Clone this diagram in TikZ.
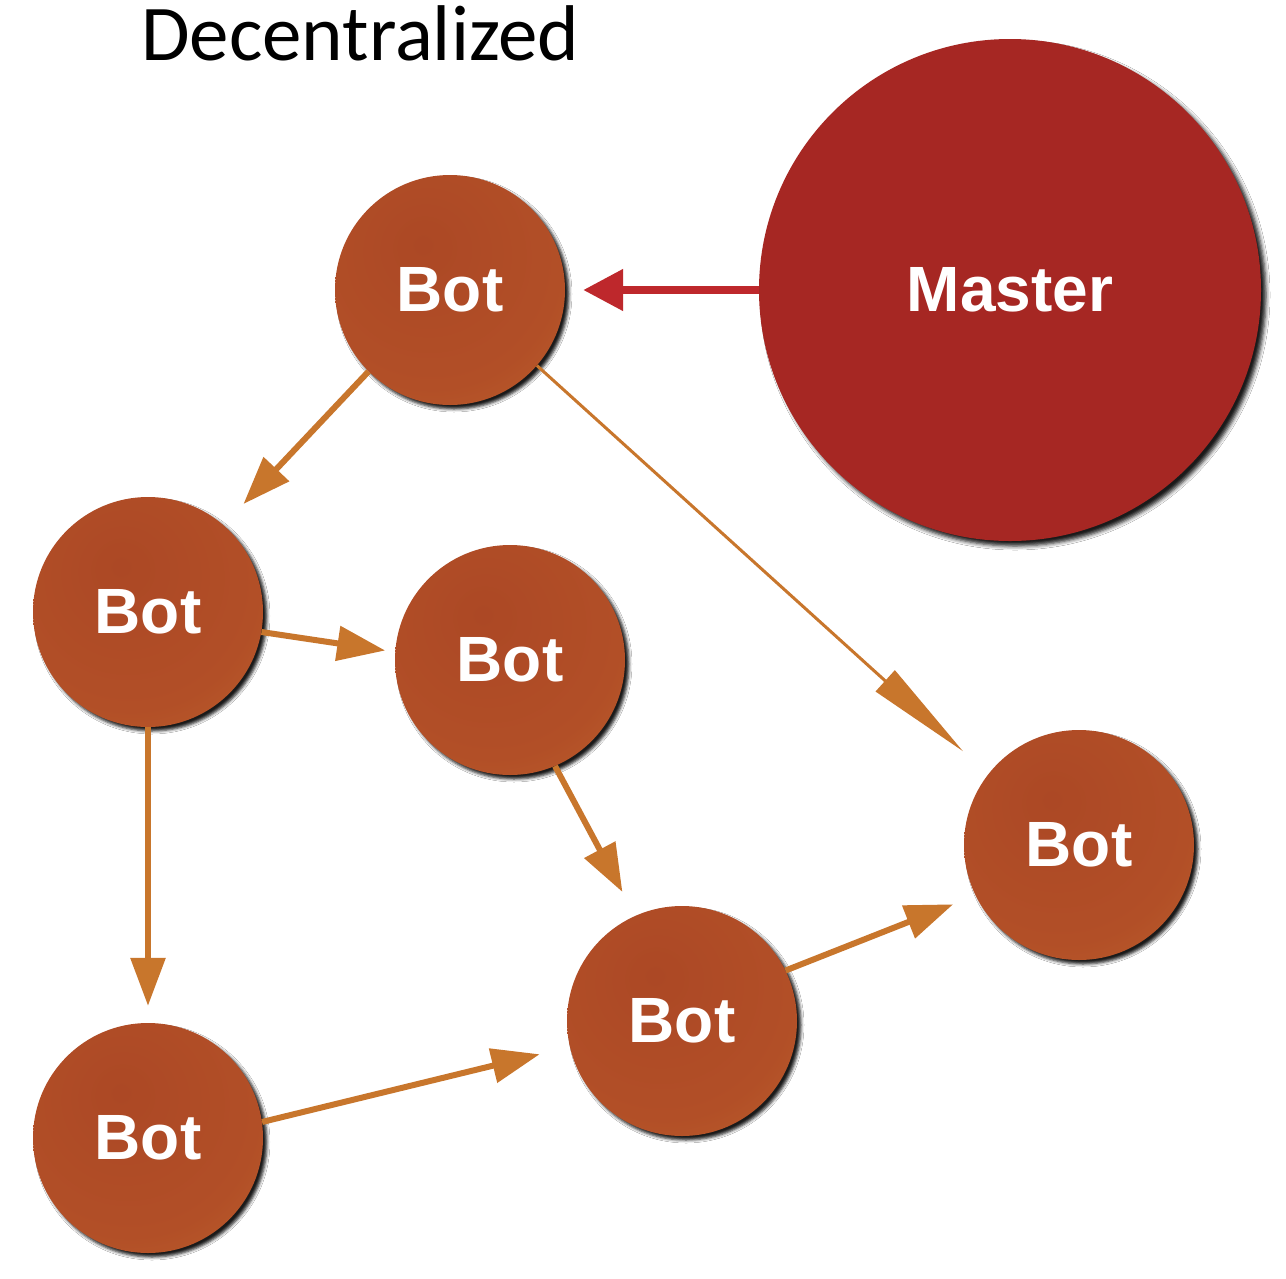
\documentclass[tikz,border=0pt]{standalone}
\usepackage{fontspec}
\setmainfont{Liberation Sans}
\newfontfamily\titlefont{Carlito}
\usetikzlibrary{arrows.meta,shadows.blur}
\definecolor{botdark}{RGB}{172,72,37}
\definecolor{botmid}{RGB}{178,79,39}
\definecolor{botlight}{RGB}{200,114,48}
\definecolor{masterdark}{RGB}{166,39,35}
\definecolor{masterlight}{RGB}{184,45,40}
\definecolor{arroworange}{RGB}{200,118,44}
\definecolor{arrowred}{RGB}{190,40,44}
\pgfdeclareradialshading{botshade}{\pgfpoint{-6bp}{10bp}}{color(0bp)=(botdark); color(28bp)=(botmid); color(58bp)=(botlight); color(80bp)=(botlight)}
\pgfdeclareradialshading{mastershade}{\pgfpoint{-8bp}{6bp}}{color(0bp)=(masterdark); color(45bp)=(masterdark); color(60bp)=(masterlight); color(80bp)=(masterlight)}
\tikzset{
  botnode/.style={circle, minimum size=230pt, inner sep=0pt, shading=botshade,
    blur shadow={shadow xshift=4pt, shadow yshift=-4pt, shadow blur radius=3pt, shadow opacity=90},
    text=white, font=\bfseries\fontsize{64}{64}\selectfont},
  masternode/.style={circle, minimum size=502pt, inner sep=0pt, shading=mastershade,
    blur shadow={shadow xshift=5pt, shadow yshift=-5pt, shadow blur radius=4pt, shadow opacity=90},
    text=white, font=\bfseries\fontsize{64}{64}\selectfont},
  arr/.style={draw=arroworange, line width=6pt, -{Triangle[length=48pt,width=34pt]}},
  thinarr/.style={draw=arroworange, line width=3pt, -{Triangle[length=105pt,width=28pt]}},
  redarr/.style={draw=arrowred, line width=8pt, -{Triangle[length=40pt,width=40pt]}},
  titlestyle/.style={anchor=base west, inner sep=0pt, font=\titlefont\fontsize{79}{82}\selectfont, text=black}
}
\begin{document}
\begin{tikzpicture}[x=1pt,y=-1pt]
\fill[white] (0,0) rectangle (1286,1278);
\useasboundingbox (0,0) rectangle (1286,1278);
\node[titlestyle] (title) at (141,60) {Decentralized};
\node[botnode] (b1) at (450,290) {Bot};
\node[masternode] (m) at (1010,290) {Master};
\node[botnode] (b2) at (148,612) {Bot};
\node[botnode] (b3) at (510,660) {Bot};
\node[botnode] (b4) at (1079,845) {Bot};
\node[botnode] (b5) at (682,1021) {Bot};
\node[botnode] (b6) at (148,1138) {Bot};
\draw[redarr, shorten >=18pt] (m.180) -- (b1.0);
\draw[arr, shorten >=29pt] (b1.-135) -- (b2.49);
\draw[thinarr, shorten >=34pt] (b1.-41) -- (b4.142);
\draw[arr, shorten >=10pt] (b2.-10) -- (b3.176);
\draw[arr, shorten >=17pt] (b2.-90) -- (b6.90);
\draw[arr, shorten >=27pt] (b3.-67) -- (b5.114);
\draw[arr, shorten >=31pt] (b6.8) -- (b5.193);
\draw[arr, shorten >=24pt] (b5.26) -- (b4.206);
\end{tikzpicture}
\end{document}
